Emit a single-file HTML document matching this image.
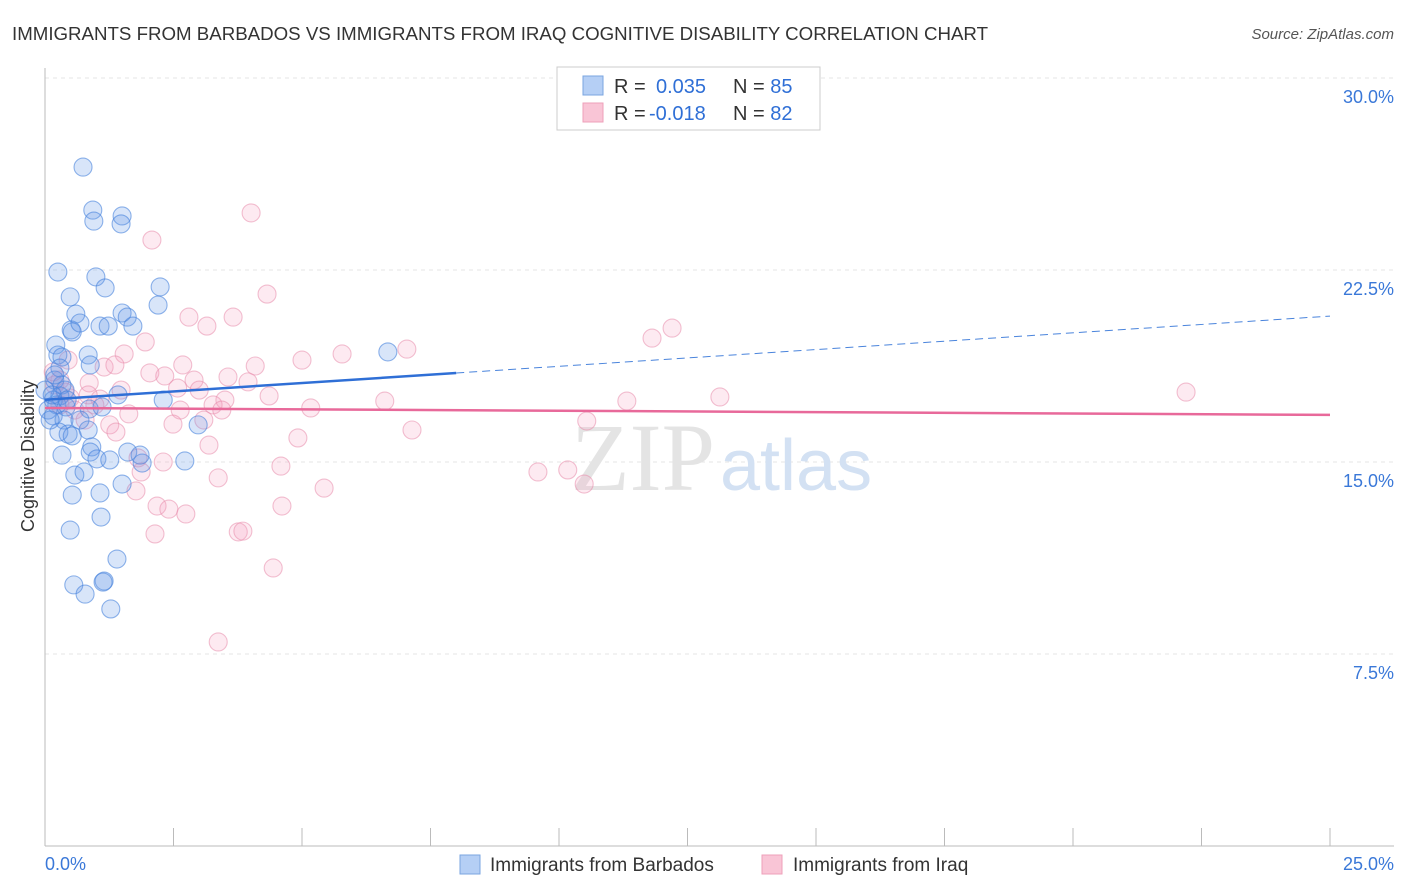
<!DOCTYPE html>
<html><head><meta charset="utf-8"><style>
body{margin:0;background:#fff;font-family:"Liberation Sans",sans-serif;}
svg{display:block}
</style></head><body>
<svg id="chart" width="1406" height="892">
<text x="12" y="40" font-size="18.7" fill="#333">IMMIGRANTS FROM BARBADOS VS IMMIGRANTS FROM IRAQ COGNITIVE DISABILITY CORRELATION CHART</text>
<text x="1394" y="39" font-size="15" fill="#555" font-style="italic" text-anchor="end">Source: ZipAtlas.com</text>
<g id="grid"></g>
<text x="715" y="490" font-size="96" fill="#e4e4e4" text-anchor="end" font-family="Liberation Serif">ZIP</text>
<text x="720" y="490" font-size="72" fill="#d3e1f3">atlas</text>
<g id="points"></g>
<g id="lines"></g>
<text transform="translate(34,456) rotate(-90)" font-size="18" fill="#333" text-anchor="middle">Cognitive Disability</text>
<g>
<rect x="557" y="67" width="263" height="63" fill="#fff" stroke="#ccc"/>
<rect x="583" y="76" width="20" height="19" fill="#b5cff5" stroke="#7aa5e0"/>
<rect x="583" y="103" width="20" height="19" fill="#f9c5d6" stroke="#eea0ba"/>
<text x="614" y="93" font-size="20" fill="#333">R = <tspan x="656" fill="#2f6fd6">0.035</tspan><tspan x="733">N = </tspan><tspan fill="#2f6fd6">85</tspan></text>
<text x="614" y="120" font-size="20" fill="#333">R = <tspan x="649" fill="#2f6fd6">-0.018</tspan><tspan x="733">N = </tspan><tspan fill="#2f6fd6">82</tspan></text>
</g>
<text x="45" y="870" font-size="18" fill="#3a78d8">0.0%</text>
<text x="1394" y="870" font-size="18" fill="#3a78d8" text-anchor="end">25.0%</text>
<g>
<rect x="460" y="855" width="20" height="19" fill="#b5cff5" stroke="#7aa5e0"/>
<text x="490" y="871" font-size="19" fill="#333">Immigrants from Barbados</text></g>
<g>
<rect x="762" y="855" width="20" height="19" fill="#f9c5d6" stroke="#eea0ba"/>
<text x="793" y="871" font-size="19" fill="#333">Immigrants from Iraq</text></g>
</svg>
<script>
const yTicks=[7.5,15,22.5,30];
const yTickLabels=["7.5%","15.0%","22.5%","30.0%"];
const xTicks=[0,2.5,5,7.5,10,12.5,15,17.5,20,22.5,25];
const blueX=[0.74,0.93,0.95,1.50,1.48,0.25,0.99,0.49,1.17,2.24,2.20,0.60,1.50,1.60,0.51,0.53,0.68,1.07,1.23,1.71,0.21,0.25,0.33,0.84,0.29,0.88,0.19,0.33,0.39,0.29,1.42,2.30,0.16,0.23,0.41,0.86,1.11,0.16,0.37,0.68,0.84,0.27,0.45,0.53,0.91,0.88,1.61,0.33,1.01,1.26,1.89,2.72,0.58,0.76,1.50,0.53,1.07,1.09,0.49,1.40,0.56,1.15,1.13,0.78,1.28,6.67,2.98,0.0,0.06,0.10,0.14,0.19,0.43,1.85];
const blueY=[26.52,24.84,24.41,24.61,24.30,22.42,22.23,21.45,21.80,21.84,21.13,20.78,20.82,20.66,20.16,20.08,20.43,20.31,20.31,20.31,19.57,19.18,19.10,19.18,18.67,18.79,18.20,18.01,17.81,17.58,17.62,17.42,17.42,17.23,17.15,17.07,17.15,16.80,16.64,16.64,16.25,16.17,16.09,16.02,15.59,15.39,15.39,15.27,15.12,15.08,14.96,15.04,14.49,14.61,14.14,13.71,13.79,12.85,12.34,11.21,10.20,10.35,10.31,9.84,9.26,19.30,16.45,17.81,17.03,16.64,17.62,18.40,17.42,15.27];
const pinkX=[4.01,2.08,4.32,2.80,3.66,3.15,1.95,1.54,2.68,4.09,5.00,5.78,7.04,11.81,12.20,1.15,2.04,2.33,2.90,3.56,3.95,2.58,1.48,0.86,1.07,3.00,3.50,4.36,3.27,2.63,3.44,5.17,6.61,11.32,13.13,22.20,1.63,2.49,3.09,1.26,1.38,10.54,7.14,4.92,3.19,1.81,2.30,4.59,1.87,3.37,9.59,10.17,10.49,5.43,1.77,2.18,2.41,2.74,4.61,2.14,3.76,3.85,4.44,3.37,0.19,0.29,0.39,0.49,0.29,0.58,0.97,0.78,0.45,0.16,0.84,1.36];
const pinkY=[24.73,23.67,21.56,20.66,20.66,20.31,19.69,19.22,18.79,18.75,18.98,19.22,19.41,19.84,20.23,18.71,18.48,18.36,18.20,18.32,18.13,17.89,17.81,18.09,17.46,17.81,17.42,17.58,17.23,17.03,17.03,17.11,17.38,17.38,17.54,17.73,16.88,16.48,16.64,16.45,16.17,16.60,16.25,15.94,15.66,15.16,15.00,14.84,14.61,14.38,14.61,14.69,14.14,13.98,13.87,13.28,13.16,12.97,13.28,12.19,12.27,12.30,10.86,7.97,18.01,18.20,17.73,17.50,17.23,17.03,17.23,16.64,18.98,18.52,17.62,18.79];
const blueTrend=[17.43,20.70];
const pinkTrend=[17.11,16.84];
const NS="http://www.w3.org/2000/svg";
function X(v){return 45+v*51.4;}
function Y(v){return 846-v*25.6;}
function mk(tag,attrs,parent){const e=document.createElementNS(NS,tag);for(const k in attrs)e.setAttribute(k,attrs[k]);parent.appendChild(e);return e;}
const grid=document.getElementById('grid');
yTicks.forEach((t,i)=>{
 const l=mk('line',{x1:45,x2:1394,y1:Y(t),y2:Y(t),stroke:'#e6e6e6','stroke-dasharray':'4,4'},grid);
 
 
 const tx=mk('text',{x:1394,y:Y(t)+25,'font-size':18,fill:'#3a78d8','text-anchor':'end'},grid);
 tx.textContent=yTickLabels[i];
 
 
});
const ax=mk('line',{x1:45,x2:1394,y1:846,y2:846,stroke:'#bbb'},grid);


const ay=mk('line',{x1:45,x2:45,y1:68,y2:846,stroke:'#bbb'},grid);


xTicks.forEach(t=>{
 const l=mk('line',{x1:X(t),x2:X(t),y1:828,y2:846,stroke:'#bbb'},grid);
 
 
});
const pts=document.getElementById('points');
function plot(xs,ys,fill,stroke,name){
 xs.forEach((x,i)=>{
  const c=mk('circle',{cx:X(x),cy:Y(ys[i]),r:9,fill:fill,stroke:stroke,'stroke-width':1.1},pts);
  
  
 });
}
plot(pinkX,pinkY,'rgba(245,160,190,0.22)','rgba(232,140,172,0.55)','iraq-point');
plot(blueX,blueY,'rgba(100,150,230,0.25)','rgba(70,130,220,0.6)','barbados-point');
const lg=document.getElementById('lines');
const bm=blueTrend[0]+(blueTrend[1]-blueTrend[0])*8/25;
const b1=mk('line',{x1:X(0),y1:Y(blueTrend[0]),x2:X(8),y2:Y(bm),stroke:'#2f6fd6','stroke-width':2.5},lg);


const b2=mk('line',{x1:X(8),y1:Y(bm),x2:X(25),y2:Y(blueTrend[1]),stroke:'#4a84dc','stroke-width':1,'stroke-dasharray':'8,5'},lg);


const p1=mk('line',{x1:X(0),y1:Y(pinkTrend[0]),x2:X(25),y2:Y(pinkTrend[1]),stroke:'#e8699a','stroke-width':2.5},lg);


</script>
</body></html>
